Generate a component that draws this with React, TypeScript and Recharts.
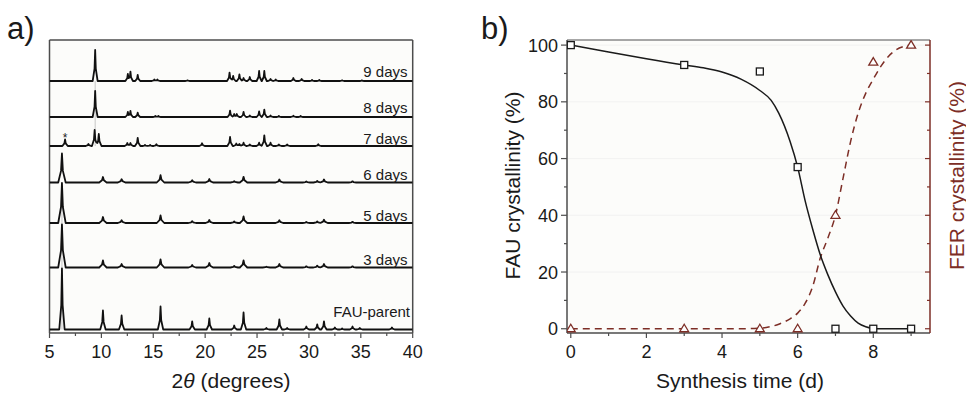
import React from 'react';
import {
  LineChart,
  Line,
  XAxis,
  YAxis,
  ComposedChart,
  Scatter,
  CartesianGrid,
  ReferenceLine,
} from 'recharts';

const FONT = '"Liberation Sans", Arial, Helvetica, sans-serif';
const AX = '#4d4d4d';
const BROWN = '#7d2e26';
const INK = '#1a1a1a';

// ---------------- Panel a: XRD patterns ----------------
const aTicks = [5, 7.5, 10, 12.5, 15, 17.5, 20, 22.5, 25, 27.5, 30, 32.5, 35, 37.5, 40];
const aMajorTicks = [5, 10, 15, 20, 25, 30, 35, 40];
const aDomain = [5, 40];
const aIntensityDomain = [0, 293];
const patternNames = ['FAU-parent', '3 days', '5 days', '6 days', '7 days', '8 days', '9 days'];
// stacking offsets of each pattern (intensity units)
const patternOffsets = [3.5, 65.5, 110, 150.5, 187, 216, 252];

// peaks: [2theta, intensity]
const fauParentPeaks: [number, number][] = [
  [6.2, 61], [10.15, 19], [11.95, 14], [15.7, 23], [18.75, 8], [20.4, 11], [22.8, 4],
  [23.7, 17], [25.9, 1.5], [27.15, 10], [27.9, 1.5], [29.75, 3], [30.8, 5], [31.45, 8],
  [32.5, 2], [33.2, 1], [34.2, 3], [34.9, 1.5], [38.0, 2],
];
const days3Peaks: [number, number][] = [
  [6.2, 43], [10.15, 7], [11.95, 3.5], [15.7, 8], [18.75, 2.5], [20.4, 4.5], [22.8, 1.5],
  [23.7, 7], [25.9, 0.8], [27.15, 3.5], [29.75, 1.2], [30.8, 1.8], [31.45, 3.5], [34.2, 1.2],
];
const days5Peaks: [number, number][] = [
  [6.2, 40], [10.15, 6], [11.95, 2.7], [15.7, 7.5], [18.75, 1.8], [20.4, 3], [22.8, 1.5],
  [23.7, 6.5], [27.15, 2.7], [29.75, 1], [30.8, 1.5], [31.45, 3.3], [34.2, 1.2],
];
const days6Peaks: [number, number][] = [
  [6.2, 29], [10.15, 5.5], [11.95, 3.3], [15.7, 7.3], [18.75, 2.3], [20.4, 3.5], [22.8, 1.3],
  [23.7, 5.7], [27.15, 3], [29.75, 1], [30.8, 1.5], [31.45, 3], [34.2, 1.2],
];
const days7Peaks: [number, number][] = [
  [6.5, 6.5], [8.75, 2], [9.35, 16], [9.75, 12], [12.5, 3], [12.8, 3], [13.5, 8], [14.2, 1],
  [14.7, 1], [15.3, 1.7], [19.7, 2.7], [22.4, 9], [23.0, 2.5], [23.3, 2], [23.7, 3.3],
  [24.3, 1.5], [25.2, 3.3], [25.7, 10.7], [26.3, 3.3], [27.1, 1.5], [27.9, 1.5], [30.9, 1.7],
];
const days8Peaks: [number, number][] = [
  [9.4, 26], [12.55, 5], [12.8, 6], [13.5, 4.3], [15.2, 1], [15.5, 1], [22.4, 6.3], [22.8, 3],
  [23.05, 3], [23.7, 5], [24.3, 1.5], [25.2, 5.7], [25.7, 7.3], [26.3, 1.5], [27.1, 1],
  [28.5, 1.3], [29.2, 1],
];
const days9Peaks: [number, number][] = [
  [9.4, 31], [12.55, 7], [12.8, 9.3], [13.5, 6], [15.1, 1.5], [15.4, 1.5], [18.3, 0.7],
  [22.35, 8.3], [22.7, 5], [23.3, 6.7], [23.7, 3], [24.3, 4], [25.2, 10], [25.7, 10],
  [26.3, 2], [26.8, 1.5], [28.5, 3], [29.3, 2], [30.3, 1], [31.0, 1], [33.2, 0.7], [35.1, 0.6],
];
const allPeaks = [fauParentPeaks, days3Peaks, days5Peaks, days6Peaks, days7Peaks, days8Peaks, days9Peaks];
const peakHalfWidths = [0.26, 0.36, 0.36, 0.36, 0.26, 0.24, 0.24];

function buildPattern(peaks: [number, number][], offset: number, hw: number) {
  const xs = new Set<number>([aDomain[0], aDomain[1]]);
  peaks.forEach(([p]) =>
    [-1, -0.25, 0, 0.25, 1].forEach((k) => xs.add(+(p + k * hw).toFixed(4)))
  );
  const sorted = Array.from(xs)
    .filter((x) => x >= aDomain[0] && x <= aDomain[1])
    .sort((a, b) => a - b);
  return sorted.map((x) => {
    let v = 0;
    for (const [p, h] of peaks) {
      const d = Math.abs(x - p);
      let f = 0;
      if (d < hw) f = d <= 0.25 * hw ? h * (1 - (2.4 * d) / hw) : (0.4 * h * (hw - d)) / (0.75 * hw);
      if (f > v) v = f;
    }
    return { x, y: offset + v };
  });
}
const patternData = allPeaks.map((pk, i) => buildPattern(pk, patternOffsets[i], peakHalfWidths[i]));

// ---------------- Panel b: crystallinity ----------------
const synthDays = [0, 3, 5, 6, 7, 8, 9];
const fauCryst = [100, 93, 90.7, 57, 0, 0, 0];
const ferCryst = [0, 0, 0, 0, 40, 94, 100];
const fitTime = [0, 1, 2, 3, 3.5, 4, 4.5, 5, 5.3, 5.5, 5.8, 6.0, 6.2, 6.4, 6.6, 6.8, 7.0, 7.2, 7.4, 7.6, 7.8, 8.0, 8.2, 8.4, 8.6, 8.8, 9.0];
const fauFit = [100, 97.6, 95.2, 93, 92, 90.5, 88, 84, 80.5, 76, 66, 57, 45, 35, 26, 19, 13, 8, 4.5, 2, 0.7, 0.1, 0, 0, 0, 0, 0];
const ferFit = [0, 0, 0, 0, 0, 0, 0, 0.2, 0.8, 1.6, 3.5, 5.5, 9, 15, 25, 32, 40, 53, 66, 76, 83, 88, 92.5, 96, 98.3, 99.5, 100];
const bXDomain = [-0.1, 9.5];
const bYDomain = [-1.5, 101.8];
const bXTicks = [0, 1, 2, 3, 4, 5, 6, 7, 8, 9];
const bXMajor = [0, 2, 4, 6, 8];
const bYTicks = [0, 10, 20, 30, 40, 50, 60, 70, 80, 90, 100];
const bYMajor = [0, 20, 40, 60, 80, 100];
const bGrid = [20, 40, 60, 80, 100];

const fauPts = synthDays.map((d, i) => ({ x: d, y: fauCryst[i] }));
const ferPts = synthDays.map((d, i) => ({ x: d, y: ferCryst[i] }));
const fauFitPts = fitTime.map((t, i) => ({ x: t, y: fauFit[i] }));
const ferFitPts = fitTime.map((t, i) => ({ x: t, y: ferFit[i] }));

// ---------------- tick renderers ----------------
const ATick = (props: any) => {
  const { x, y, payload } = props;
  const major = aMajorTicks.includes(payload.value);
  return (
    <g>
      <line x1={x} x2={x} y1={y} y2={y + (major ? 5 : 3)} stroke={AX} strokeWidth={1.2} />
      {major && (
        <text x={x} y={y + 24.5} textAnchor="middle" fontSize={18} fill={INK} fontFamily={FONT}>
          {payload.value}
        </text>
      )}
    </g>
  );
};
const BXTick = (props: any) => {
  const { x, y, payload } = props;
  const major = bXMajor.includes(payload.value);
  return (
    <g>
      <line x1={x} x2={x} y1={y} y2={y + (major ? 5 : 3)} stroke={AX} strokeWidth={1.2} />
      {major && (
        <text x={x} y={y + 25} textAnchor="middle" fontSize={18} fill={INK} fontFamily={FONT}>
          {payload.value}
        </text>
      )}
    </g>
  );
};
const BYLeftTick = (props: any) => {
  const { x, y, payload } = props;
  const major = bYMajor.includes(payload.value);
  return (
    <g>
      <line x1={x - (major ? 6 : 3)} x2={x} y1={y} y2={y} stroke={AX} strokeWidth={1.2} />
      {major && (
        <text x={x - 9} y={y + 6.5} textAnchor="end" fontSize={18} fill={INK} fontFamily={FONT}>
          {payload.value}
        </text>
      )}
    </g>
  );
};
const BYRightTick = (props: any) => {
  const { x, y, payload } = props;
  const major = bYMajor.includes(payload.value);
  return <line x1={x - (major ? 5 : 3)} x2={x} y1={y} y2={y} stroke={BROWN} strokeWidth={1.2} />;
};

const SquareDot = (props: any) => {
  const { cx, cy } = props;
  if (cx == null || cy == null) return null;
  return <rect x={cx - 3.5} y={cy - 3.5} width={7} height={7} fill="#ffffff" stroke={INK} strokeWidth={1.3} />;
};
const TriDot = (props: any) => {
  const { cx, cy } = props;
  if (cx == null || cy == null) return null;
  return (
    <path
      d={`M${cx},${cy - 4.5} L${cx + 4.5},${cy + 3} L${cx - 4.5},${cy + 3} Z`}
      fill="#ffffff"
      stroke={BROWN}
      strokeWidth={1.3}
    />
  );
};

// label layout (page pixels)
const labelBaselines = [316.7, 265, 220.7, 180, 144, 113, 77];

export default function App() {
  return (
    <div style={{ position: 'absolute', left: 0, top: 0, width: 966, height: 394, background: '#ffffff', fontFamily: FONT }}>
      {/* Panel a */}
      <div style={{ position: 'absolute', left: 0, top: 0 }}>
        <LineChart width={430} height={394} margin={{ top: 40, left: 49.5, right: 17.3, bottom: 21 }}>
          <CartesianGrid horizontal={false} vertical={false} fill="#fcfcfa" />
          <XAxis
            type="number"
            dataKey="x"
            domain={aDomain}
            ticks={aTicks}
            interval={0}
            height={40}
            tickSize={0}
            tickMargin={0}
            tickLine={false}
            axisLine={{ stroke: AX, strokeWidth: 1.5 }}
            tick={(p: any) => <ATick {...p} />}
            allowDataOverflow
          />
          <YAxis type="number" domain={aIntensityDomain} hide allowDataOverflow />
          <ReferenceLine x={aDomain[0]} stroke={AX} strokeWidth={1.5} />
          <ReferenceLine x={aDomain[1]} stroke={AX} strokeWidth={1.5} />
          <ReferenceLine y={aIntensityDomain[1]} stroke={AX} strokeWidth={1.5} />
          <ReferenceLine
            segment={[{ x: allPeaks[0][0][0], y: patternOffsets[0] }, { x: allPeaks[0][0][0], y: patternOffsets[3] }]}
            stroke="#b8b8b8"
            strokeWidth={0.8}
          />
          <ReferenceLine
            segment={[{ x: allPeaks[6][0][0], y: patternOffsets[4] }, { x: allPeaks[6][0][0], y: patternOffsets[6] }]}
            stroke="#b8b8b8"
            strokeWidth={0.8}
          />
          {patternData.map((d, i) => (
            <Line
              key={patternNames[i]}
              data={d}
              dataKey="y"
              type="linear"
              stroke="#111111"
              strokeWidth={1.8}
              strokeLinejoin="round"
              dot={false}
              isAnimationActive={false}
            />
          ))}
        </LineChart>
      </div>

      {/* Panel b */}
      <div style={{ position: 'absolute', left: 480, top: 0 }}>
        <ComposedChart width={486} height={394} margin={{ top: 40, left: 27, right: 6, bottom: 21 }}>
          <CartesianGrid
            yAxisId="left"
            vertical={false}
            horizontalValues={bGrid}
            stroke="#efefef"
            strokeWidth={0.8}
            fill="#fcfcfa"
          />
          <XAxis
            type="number"
            dataKey="x"
            domain={bXDomain}
            ticks={bXTicks}
            interval={0}
            height={40}
            tickSize={0}
            tickMargin={0}
            tickLine={false}
            axisLine={{ stroke: AX, strokeWidth: 1.5 }}
            tick={(p: any) => <BXTick {...p} />}
            allowDataOverflow
          />
          <YAxis
            yAxisId="left"
            type="number"
            domain={bYDomain}
            ticks={bYTicks}
            interval={0}
            width={60}
            tickSize={0}
            tickMargin={0}
            tickLine={false}
            axisLine={{ stroke: AX, strokeWidth: 1.5 }}
            tick={(p: any) => <BYLeftTick {...p} />}
            allowDataOverflow
          />
          <YAxis
            yAxisId="right"
            orientation="right"
            type="number"
            domain={bYDomain}
            ticks={bYTicks}
            interval={0}
            width={30}
            tickSize={0}
            tickMargin={0}
            tickLine={false}
            axisLine={{ stroke: BROWN, strokeWidth: 1.5 }}
            tick={(p: any) => <BYRightTick {...p} />}
            allowDataOverflow
          />
          <ReferenceLine yAxisId="left" y={bYDomain[1]} stroke="#8a8a8a" strokeWidth={1.3} />
          <Line
            yAxisId="right"
            data={ferFitPts}
            dataKey="y"
            type="monotone"
            stroke={BROWN}
            strokeWidth={1.5}
            strokeDasharray="7 5"
            dot={false}
            isAnimationActive={false}
          />
          <Line
            yAxisId="left"
            data={fauFitPts}
            dataKey="y"
            type="monotone"
            stroke={INK}
            strokeWidth={1.5}
            dot={false}
            isAnimationActive={false}
          />
          <Scatter yAxisId="right" data={ferPts} dataKey="y" shape={(p: any) => <TriDot {...p} />} isAnimationActive={false} />
          <Scatter yAxisId="left" data={fauPts} dataKey="y" shape={(p: any) => <SquareDot {...p} />} isAnimationActive={false} />
        </ComposedChart>
      </div>

      {/* Text overlay */}
      <svg width={966} height={394} style={{ position: 'absolute', left: 0, top: 0, pointerEvents: 'none' }} fontFamily={FONT}>
        <text x={7} y={39} fontSize={31} fill={INK}>a)</text>
        <text x={481} y={39} fontSize={31} fill={INK}>b)</text>
        {patternNames.map((n, i) => (
          <text key={n} x={i === 0 ? 410 : 407.5} y={labelBaselines[i]} textAnchor="end" fontSize={15} fill={INK}>
            {n}
          </text>
        ))}
        <text x={65} y={142} textAnchor="middle" fontSize={12} fill={INK}>*</text>
        <text x={231} y={388} textAnchor="middle" fontSize={21} fill={INK}>
          2<tspan fontStyle="italic">θ</tspan> (degrees)
        </text>
        <text x={740} y={388} textAnchor="middle" fontSize={21} fill={INK}>
          Synthesis time (d)
        </text>
        <text x={520} y={185.5} textAnchor="middle" fontSize={21} fill={INK} transform="rotate(-90, 520, 185.5)">
          FAU crystallinity (%)
        </text>
        <text x={963.5} y={175.5} textAnchor="middle" fontSize={21} fill={BROWN} transform="rotate(-90, 963.5, 175.5)">
          FER crystallinity (%)
        </text>
      </svg>
    </div>
  );
}
